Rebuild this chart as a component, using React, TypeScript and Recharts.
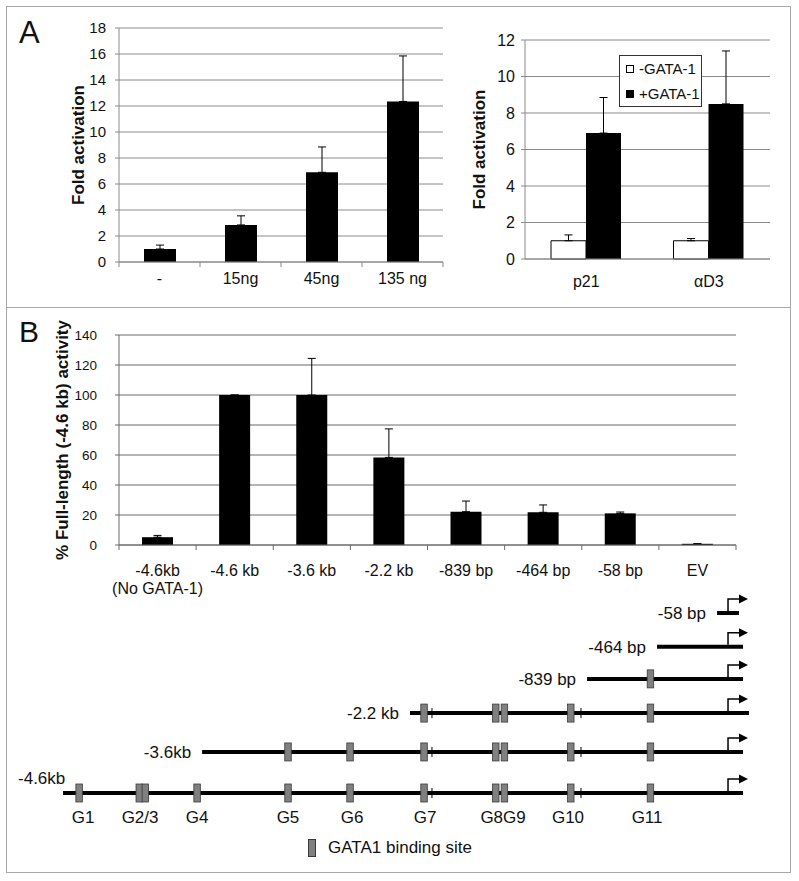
import React from 'react';
import {
  BarChart,
  Bar,
  XAxis,
  YAxis,
  CartesianGrid,
  ErrorBar,
  Legend,
  ComposedChart,
  Scatter,
  ReferenceLine,
} from 'recharts';

const FONT = "'Liberation Sans', Arial, Helvetica, sans-serif";

// Panel A (left): GATA-1 dose response
const doseLabels = ['-', '15ng', '45ng', '135 ng'];
const doseFold = [1.0, 2.85, 6.9, 12.35];
const doseErr = [0.3, 0.7, 1.95, 3.5];
const doseTicks = [0, 2, 4, 6, 8, 10, 12, 14, 16, 18];

// Panel A (right): promoters -/+ GATA-1
const promoters = ['p21', 'αD3'];
const minusGata = [1.0, 1.0];
const minusGataErr = [0.32, 0.12];
const plusGata = [6.9, 8.5];
const plusGataErr = [1.95, 2.9];
const promoterTicks = [0, 2, 4, 6, 8, 10, 12];

// Panel B: deletion constructs
const constructs = ['-4.6kb\n(No GATA-1)', '-4.6 kb', '-3.6 kb', '-2.2 kb', '-839 bp', '-464 bp', '-58 bp', 'EV'];
const activity = [5.2, 100, 100, 58.4, 22.2, 21.8, 21.1, 0.8];
const activityErr = [1.2, 0, 24.4, 19.0, 7.1, 4.9, 0.9, 0];
const activityTicks = [0, 20, 40, 60, 80, 100, 120, 140];

// Promoter map, positions in bp relative to the TSS (schematic)
const rowNames = ['-4.6kb', '-3.6kb', '-2.2 kb', '-839 bp', '-464 bp', '-58 bp'];
const rowStart = [-4600, -3638, -2200, -975, -491, -76];
const rowEnd = [104, 104, 145, 104, 104, 76];
const rowLevel = [0, 1.14, 2.22, 3.17, 4.06, 5.0];
const sitePos = [-4489, -4073, -4031, -3673, -3044, -2615, -2103, -1607, -1547, -1088, -537];
const siteLabels = ['G1', 'G2/3', 'G4', 'G5', 'G6', 'G7', 'G8G9', 'G10', 'G11'];
const siteLabelPos = [-4461, -4067, -3673, -3044, -2601, -2096, -1556, -1107, -560];
const minorMarks = [-2048, -1017];
const TSS = 0;
const SITE_NAME = 'GATA1 binding site';

const doseData = doseLabels.map((label, i) => ({ label, fold: doseFold[i], err: [0, doseErr[i]] }));
const promoterData = promoters.map((name, i) => ({
  name,
  minus: minusGata[i],
  minusErr: [0, minusGataErr[i]],
  plus: plusGata[i],
  plusErr: [0, plusGataErr[i]],
}));
const activityData = constructs.map((name, i) => ({ name, value: activity[i], err: [0, activityErr[i]] }));

const mapRows = rowNames.map((name, i) => ({ name, x: rowStart[i], end: rowEnd[i], y: rowLevel[i] }));
const siteMarks = mapRows.flatMap((r) => sitePos.filter((p) => p > r.x).map((p) => ({ x: p, y: r.y })));
const minorMarkData = mapRows.flatMap((r) => minorMarks.filter((p) => p > r.x).map((p) => ({ x: p, y: r.y })));
const arrowData = mapRows.map((r) => ({ x: TSS, y: r.y }));
const siteLabelData = siteLabels.map((name, i) => ({ name, x: siteLabelPos[i], y: 0 }));

// category label with Excel style "between" tick marks
function BetweenTick(props: any) {
  const { x, y, payload, index, visibleTicksCount, count, half, tickLen = 0, gap, lineGap = 18, fontSize, fontFamily, stroke = '#888' } = props;
  const h = payload && typeof payload.offset === 'number' && payload.offset > 0 ? payload.offset : half;
  const last = (visibleTicksCount ?? count) - 1;
  const lines = String(payload.value).split('\n');
  return (
    <g>
      {tickLen > 0 && <line x1={x - h} x2={x - h} y1={y} y2={y + tickLen} stroke={stroke} />}
      {tickLen > 0 && index === last && <line x1={x + h} x2={x + h} y1={y} y2={y + tickLen} stroke={stroke} />}
      <text x={x} y={y + gap} textAnchor="middle" fontSize={fontSize} fontFamily={fontFamily} fill="#111">
        {lines.map((t, i) => (
          <tspan key={i} x={x} dy={i === 0 ? 0 : lineGap}>
            {t}
          </tspan>
        ))}
      </text>
    </g>
  );
}

function GataLegend(props: any) {
  const items = props.payload || [];
  return (
    <div style={{ border: '1px solid #333', background: '#fff', padding: '0 6px', width: 83, boxSizing: 'border-box' }}>
      {items.map((it: any) => (
        <div key={it.value} style={{ display: 'flex', alignItems: 'center', height: 25, fontSize: 15, fontFamily: FONT, color: '#111', whiteSpace: 'nowrap' }}>
          <span style={{ flex: '0 0 8px', width: 8, height: 8, background: it.color, border: '1px solid #000', marginRight: 5, boxSizing: 'border-box' }} />
          {it.value}
        </div>
      ))}
    </div>
  );
}

function SiteLegend(props: any) {
  const items = (props.payload || []).filter((it: any) => it.value === SITE_NAME);
  return (
    <div>
      {items.map((it: any) => (
        <div key={it.value} style={{ display: 'flex', alignItems: 'center', fontSize: 17, fontFamily: FONT, color: '#111', whiteSpace: 'nowrap' }}>
          <span style={{ flex: '0 0 8px', width: 8, height: 18, background: it.color, border: '1px solid #3a3a3a', boxSizing: 'border-box', marginRight: 12 }} />
          {it.value}
        </div>
      ))}
    </div>
  );
}

const SiteShape = (p: any) => (
  <rect x={p.cx - 3.2} y={p.cy - 9} width={6.5} height={18} fill="#808080" stroke="#3a3a3a" strokeWidth={0.8} />
);
const MinorShape = (p: any) => <line x1={p.cx} x2={p.cx} y1={p.cy - 5} y2={p.cy + 5} stroke="#000" strokeWidth={1} />;
const ArrowShape = (p: any) => (
  <g>
    <path d={`M${p.cx},${p.cy - 2} V${p.cy - 14} H${p.cx + 12}`} stroke="#000" strokeWidth={1.5} fill="none" />
    <path d={`M${p.cx + 11},${p.cy - 18.5} L${p.cx + 20},${p.cy - 14} L${p.cx + 11},${p.cy - 9.5} Z`} fill="#000" />
  </g>
);
const RowLabelShape = (p: any) => {
  const bottomRow = p.payload.y === 0;
  return bottomRow ? (
    <text x={p.cx - 45} y={p.cy - 9} fontSize={17} fontFamily={FONT} fill="#111">
      {p.payload.name}
    </text>
  ) : (
    <text x={p.cx - 11} y={p.cy + 6} textAnchor="end" fontSize={17} fontFamily={FONT} fill="#111">
      {p.payload.name}
    </text>
  );
};
const SiteLabelShape = (p: any) => (
  <text x={p.cx} y={p.cy + 30} textAnchor="middle" fontSize={17} fontFamily={FONT} fill="#111">
    {p.payload.name}
  </text>
);

const axisTitle = (value: string, offset: number) => ({
  value,
  angle: -90,
  position: 'insideLeft' as const,
  offset,
  style: { textAnchor: 'middle', fontWeight: 'bold', fontSize: 17, fill: '#111', fontFamily: FONT },
});

export default function App() {
  return (
    <div style={{ position: 'absolute', left: 0, top: 0, width: 799, height: 881, background: '#fff', fontFamily: FONT }}>
      <svg width={799} height={881} style={{ position: 'absolute', left: 0, top: 0 }}>
        <rect x={6.5} y={6.5} width={784} height={301} fill="none" stroke="#a8a8a8" />
        <rect x={6.5} y={307.5} width={784} height={565} fill="none" stroke="#a8a8a8" />
        <text x={19} y={43} fontSize={31} fontFamily={FONT} fill="#111">A</text>
        <text x={19} y={342} fontSize={30} fontFamily={FONT} fill="#111">B</text>
      </svg>

      <div style={{ position: 'absolute', left: 0, top: 0 }}>
        <BarChart width={460} height={300} data={doseData} margin={{ top: 28, right: 17, bottom: 0, left: 0 }}>
          <CartesianGrid vertical={false} stroke="#8a8a8a" />
          <XAxis
            dataKey="label"
            interval={0}
            height={38}
            tickLine={false}
            tickSize={0}
            tickMargin={0}
            axisLine={{ stroke: '#8a8a8a' }}
            tick={<BetweenTick half={40.5} count={4} tickLen={5} gap={22} fontSize={16} fontFamily={FONT} stroke="#8a8a8a" />}
          />
          <YAxis
            width={119}
            domain={[0, 18]}
            ticks={doseTicks}
            interval={0}
            tickSize={4}
            tickMargin={9}
            tickLine={{ stroke: '#8a8a8a' }}
            axisLine={{ stroke: '#8a8a8a' }}
            tick={{ fill: '#111', fontSize: 15, fontFamily: FONT }}
            label={axisTitle('Fold activation', 78)}
          />
          <Bar dataKey="fold" fill="#000" barSize={32} isAnimationActive={false}>
            <ErrorBar dataKey="err" width={4} stroke="#000" strokeWidth={1} direction="y" />
          </Bar>
        </BarChart>
      </div>

      <div style={{ position: 'absolute', left: 400, top: 0 }}>
        <BarChart width={399} height={300} data={promoterData} margin={{ top: 40, right: 29, bottom: 0, left: 0 }} barGap={0}>
          <CartesianGrid vertical={false} stroke="#8a8a8a" />
          <XAxis
            dataKey="name"
            interval={0}
            height={41}
            tickLine={false}
            tickSize={0}
            tickMargin={0}
            axisLine={{ stroke: '#8a8a8a' }}
            tick={<BetweenTick half={61} count={2} tickLen={0} gap={28} fontSize={16} fontFamily={FONT} />}
          />
          <YAxis
            width={125}
            domain={[0, 12]}
            ticks={promoterTicks}
            interval={0}
            tickSize={4}
            tickMargin={6}
            tickLine={{ stroke: '#8a8a8a' }}
            axisLine={{ stroke: '#8a8a8a' }}
            tick={{ fill: '#111', fontSize: 16, fontFamily: FONT }}
            label={axisTitle('Fold activation', 79)}
          />
          <Legend
            layout="vertical"
            align="center"
            verticalAlign="middle"
            itemSorter="dataKey"
            content={GataLegend}
            wrapperStyle={{ left: 219, top: 55, width: 83 }}
          />
          <Bar dataKey="minus" name="-GATA-1" fill="#fff" stroke="#000" strokeWidth={1} barSize={35} isAnimationActive={false}>
            <ErrorBar dataKey="minusErr" width={4} stroke="#000" strokeWidth={1} direction="y" />
          </Bar>
          <Bar dataKey="plus" name="+GATA-1" fill="#000" barSize={35} isAnimationActive={false}>
            <ErrorBar dataKey="plusErr" width={4} stroke="#000" strokeWidth={1} direction="y" />
          </Bar>
        </BarChart>
      </div>

      <div style={{ position: 'absolute', left: 0, top: 300 }}>
        <BarChart width={799} height={300} data={activityData} margin={{ top: 35, right: 63, bottom: 0, left: 0 }}>
          <CartesianGrid vertical={false} stroke="#6a6a6a" />
          <XAxis
            dataKey="name"
            interval={0}
            height={55}
            tickLine={false}
            tickSize={0}
            tickMargin={0}
            axisLine={{ stroke: '#6a6a6a' }}
            tick={<BetweenTick half={38.6} count={8} tickLen={5} gap={31} lineGap={18} fontSize={16} fontFamily={FONT} stroke="#6a6a6a" />}
          />
          <YAxis
            width={119}
            domain={[0, 140]}
            ticks={activityTicks}
            interval={0}
            tickSize={4}
            tickMargin={18}
            tickLine={{ stroke: '#6a6a6a' }}
            axisLine={{ stroke: '#6a6a6a' }}
            tick={{ fill: '#111', fontSize: 13.5, fontFamily: FONT }}
            label={axisTitle('% Full-length (-4.6 kb) activity', 62)}
          />
          <Bar dataKey="value" fill="#000" barSize={31} isAnimationActive={false}>
            <ErrorBar dataKey="err" width={4} stroke="#000" strokeWidth={1} direction="y" />
          </Bar>
        </BarChart>
      </div>

      <div style={{ position: 'absolute', left: 0, top: 560 }}>
        <ComposedChart width={799} height={300} margin={{ top: 17, right: 0, bottom: 31, left: 0 }}>
          <XAxis type="number" dataKey="x" domain={[-5036, 491]} hide height={0} />
          <YAxis type="number" dataKey="y" domain={[-1, 6]} hide width={0} />
          {mapRows.map((r) => (
            <ReferenceLine
              key={r.name}
              segment={[
                { x: r.x, y: r.y },
                { x: r.end, y: r.y },
              ]}
              stroke="#000"
              strokeWidth={4}
            />
          ))}
          <Legend layout="horizontal" align="center" verticalAlign="middle" content={SiteLegend} wrapperStyle={{ left: 308, top: 278, width: 300 }} />
          <Scatter name="rows" data={mapRows} shape={RowLabelShape} legendType="none" isAnimationActive={false} />
          <Scatter name="minor" data={minorMarkData} shape={MinorShape} legendType="none" isAnimationActive={false} />
          <Scatter name={SITE_NAME} data={siteMarks} fill="#808080" shape={SiteShape} isAnimationActive={false} />
          <Scatter name="tss" data={arrowData} shape={ArrowShape} legendType="none" isAnimationActive={false} />
          <Scatter name="labels" data={siteLabelData} shape={SiteLabelShape} legendType="none" isAnimationActive={false} />
        </ComposedChart>
      </div>
    </div>
  );
}
